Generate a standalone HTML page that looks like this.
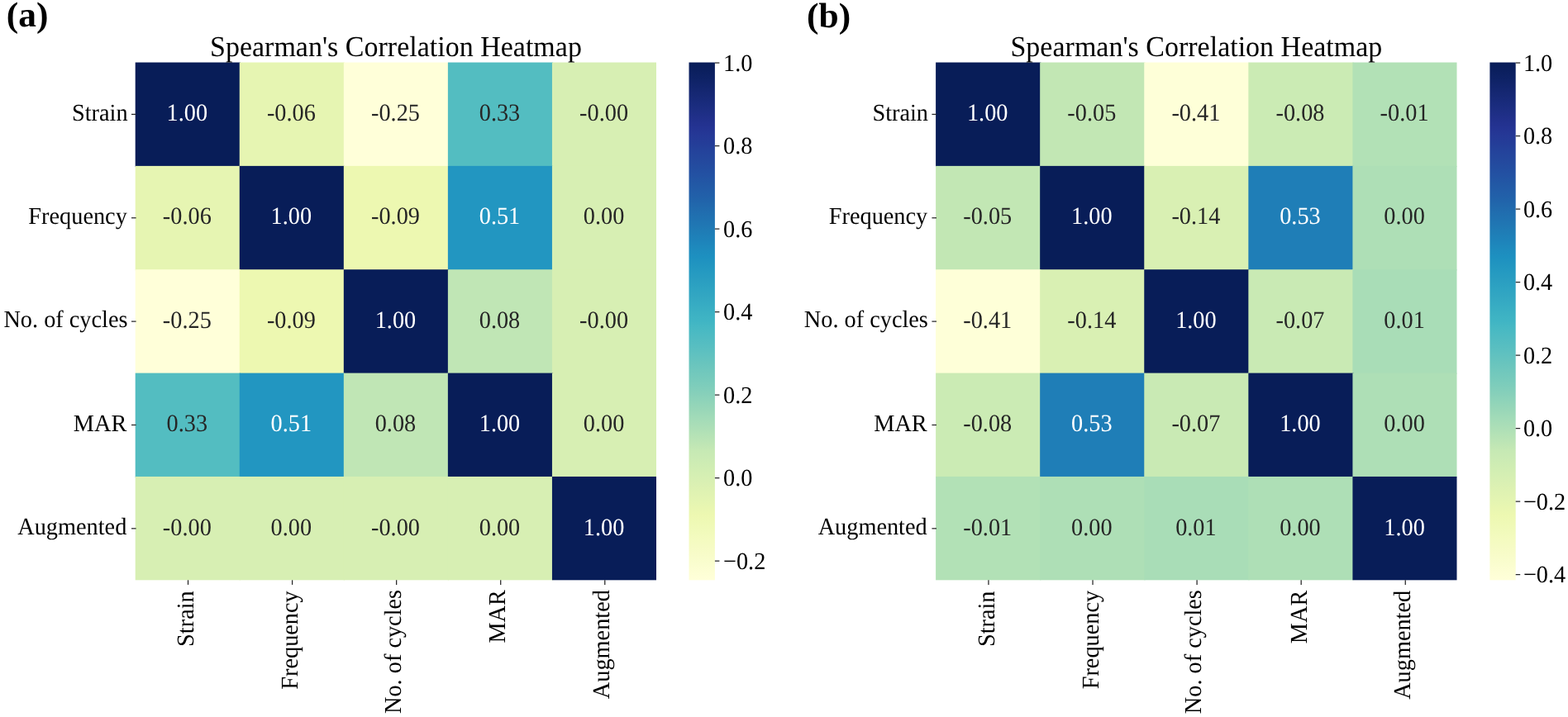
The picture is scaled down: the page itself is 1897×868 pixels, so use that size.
<!DOCTYPE html>
<html lang="en"><head><meta charset="utf-8"><title>Spearman's Correlation Heatmap</title>
<style>
html,body{margin:0;padding:0;background:#fff;}
body{width:1897px;height:868px;overflow:hidden;}
svg{display:block;font-family:"Liberation Serif","Times New Roman",Times,serif;text-rendering:geometricPrecision;}
.t{font-size:28.3px;fill:#000;}
.an{font-size:28.3px;text-anchor:middle;}
.d{fill:#262626;}.w{fill:#fff;}
.ti{font-size:34.0px;text-anchor:middle;fill:#000;}
.pl{font-size:43.5px;font-weight:bold;fill:#000;}
.tk{stroke:#262626;stroke-width:1.25;}
</style></head><body>
<svg width="1897" height="868" viewBox="0 0 1897 868">
<rect x="0" y="0" width="1897" height="868" fill="#fff"/>
<defs>
<linearGradient id="g0" x1="0" y1="1" x2="0" y2="0">
<stop offset="0.0000" stop-color="#ffffd9"/>
<stop offset="0.0156" stop-color="#fdfed4"/>
<stop offset="0.0312" stop-color="#fafdcf"/>
<stop offset="0.0469" stop-color="#f8fcca"/>
<stop offset="0.0625" stop-color="#f6fbc5"/>
<stop offset="0.0781" stop-color="#f4fbc0"/>
<stop offset="0.0938" stop-color="#f1fabb"/>
<stop offset="0.1094" stop-color="#eff9b6"/>
<stop offset="0.1250" stop-color="#edf8b1"/>
<stop offset="0.1406" stop-color="#e8f6b1"/>
<stop offset="0.1562" stop-color="#e3f4b2"/>
<stop offset="0.1719" stop-color="#dff2b2"/>
<stop offset="0.1875" stop-color="#daf0b3"/>
<stop offset="0.2031" stop-color="#d5efb3"/>
<stop offset="0.2188" stop-color="#d0edb3"/>
<stop offset="0.2344" stop-color="#cbebb4"/>
<stop offset="0.2500" stop-color="#c6e9b4"/>
<stop offset="0.2656" stop-color="#bde5b5"/>
<stop offset="0.2812" stop-color="#b4e2b6"/>
<stop offset="0.2969" stop-color="#abdeb7"/>
<stop offset="0.3125" stop-color="#a2dbb8"/>
<stop offset="0.3281" stop-color="#99d7b8"/>
<stop offset="0.3438" stop-color="#90d4b9"/>
<stop offset="0.3594" stop-color="#87d0ba"/>
<stop offset="0.3750" stop-color="#7ecdbb"/>
<stop offset="0.3906" stop-color="#76cabc"/>
<stop offset="0.4062" stop-color="#6fc7bd"/>
<stop offset="0.4219" stop-color="#67c4be"/>
<stop offset="0.4375" stop-color="#5fc1c0"/>
<stop offset="0.4531" stop-color="#57bec1"/>
<stop offset="0.4688" stop-color="#50bbc2"/>
<stop offset="0.4844" stop-color="#48b9c3"/>
<stop offset="0.5000" stop-color="#40b5c4"/>
<stop offset="0.5156" stop-color="#3cb1c3"/>
<stop offset="0.5312" stop-color="#37acc3"/>
<stop offset="0.5469" stop-color="#33a7c2"/>
<stop offset="0.5625" stop-color="#2ea3c2"/>
<stop offset="0.5781" stop-color="#2a9ec1"/>
<stop offset="0.5938" stop-color="#259ac1"/>
<stop offset="0.6094" stop-color="#2195c0"/>
<stop offset="0.6250" stop-color="#1d90c0"/>
<stop offset="0.6406" stop-color="#1e8abd"/>
<stop offset="0.6562" stop-color="#1e83ba"/>
<stop offset="0.6719" stop-color="#1f7db6"/>
<stop offset="0.6875" stop-color="#2076b3"/>
<stop offset="0.7031" stop-color="#2070b0"/>
<stop offset="0.7188" stop-color="#216aad"/>
<stop offset="0.7344" stop-color="#2163aa"/>
<stop offset="0.7500" stop-color="#225da8"/>
<stop offset="0.7656" stop-color="#2258a5"/>
<stop offset="0.7812" stop-color="#2352a3"/>
<stop offset="0.7969" stop-color="#234da0"/>
<stop offset="0.8125" stop-color="#24489d"/>
<stop offset="0.8281" stop-color="#24439b"/>
<stop offset="0.8438" stop-color="#243d98"/>
<stop offset="0.8594" stop-color="#253896"/>
<stop offset="0.8750" stop-color="#243392"/>
<stop offset="0.8906" stop-color="#21308b"/>
<stop offset="0.9062" stop-color="#1d2e83"/>
<stop offset="0.9219" stop-color="#192b7c"/>
<stop offset="0.9375" stop-color="#162874"/>
<stop offset="0.9531" stop-color="#12256d"/>
<stop offset="0.9688" stop-color="#0e2265"/>
<stop offset="0.9844" stop-color="#0b1f5e"/>
<stop offset="1.0000" stop-color="#081d58"/>
</linearGradient>
<linearGradient id="g1" x1="0" y1="1" x2="0" y2="0">
<stop offset="0.0000" stop-color="#ffffd9"/>
<stop offset="0.0156" stop-color="#fdfed4"/>
<stop offset="0.0312" stop-color="#fafdcf"/>
<stop offset="0.0469" stop-color="#f8fcca"/>
<stop offset="0.0625" stop-color="#f6fbc5"/>
<stop offset="0.0781" stop-color="#f4fbc0"/>
<stop offset="0.0938" stop-color="#f1fabb"/>
<stop offset="0.1094" stop-color="#eff9b6"/>
<stop offset="0.1250" stop-color="#edf8b1"/>
<stop offset="0.1406" stop-color="#e8f6b1"/>
<stop offset="0.1562" stop-color="#e3f4b2"/>
<stop offset="0.1719" stop-color="#dff2b2"/>
<stop offset="0.1875" stop-color="#daf0b3"/>
<stop offset="0.2031" stop-color="#d5efb3"/>
<stop offset="0.2188" stop-color="#d0edb3"/>
<stop offset="0.2344" stop-color="#cbebb4"/>
<stop offset="0.2500" stop-color="#c6e9b4"/>
<stop offset="0.2656" stop-color="#bde5b5"/>
<stop offset="0.2812" stop-color="#b4e2b6"/>
<stop offset="0.2969" stop-color="#abdeb7"/>
<stop offset="0.3125" stop-color="#a2dbb8"/>
<stop offset="0.3281" stop-color="#99d7b8"/>
<stop offset="0.3438" stop-color="#90d4b9"/>
<stop offset="0.3594" stop-color="#87d0ba"/>
<stop offset="0.3750" stop-color="#7ecdbb"/>
<stop offset="0.3906" stop-color="#76cabc"/>
<stop offset="0.4062" stop-color="#6fc7bd"/>
<stop offset="0.4219" stop-color="#67c4be"/>
<stop offset="0.4375" stop-color="#5fc1c0"/>
<stop offset="0.4531" stop-color="#57bec1"/>
<stop offset="0.4688" stop-color="#50bbc2"/>
<stop offset="0.4844" stop-color="#48b9c3"/>
<stop offset="0.5000" stop-color="#40b5c4"/>
<stop offset="0.5156" stop-color="#3cb1c3"/>
<stop offset="0.5312" stop-color="#37acc3"/>
<stop offset="0.5469" stop-color="#33a7c2"/>
<stop offset="0.5625" stop-color="#2ea3c2"/>
<stop offset="0.5781" stop-color="#2a9ec1"/>
<stop offset="0.5938" stop-color="#259ac1"/>
<stop offset="0.6094" stop-color="#2195c0"/>
<stop offset="0.6250" stop-color="#1d90c0"/>
<stop offset="0.6406" stop-color="#1e8abd"/>
<stop offset="0.6562" stop-color="#1e83ba"/>
<stop offset="0.6719" stop-color="#1f7db6"/>
<stop offset="0.6875" stop-color="#2076b3"/>
<stop offset="0.7031" stop-color="#2070b0"/>
<stop offset="0.7188" stop-color="#216aad"/>
<stop offset="0.7344" stop-color="#2163aa"/>
<stop offset="0.7500" stop-color="#225da8"/>
<stop offset="0.7656" stop-color="#2258a5"/>
<stop offset="0.7812" stop-color="#2352a3"/>
<stop offset="0.7969" stop-color="#234da0"/>
<stop offset="0.8125" stop-color="#24489d"/>
<stop offset="0.8281" stop-color="#24439b"/>
<stop offset="0.8438" stop-color="#243d98"/>
<stop offset="0.8594" stop-color="#253896"/>
<stop offset="0.8750" stop-color="#243392"/>
<stop offset="0.8906" stop-color="#21308b"/>
<stop offset="0.9062" stop-color="#1d2e83"/>
<stop offset="0.9219" stop-color="#192b7c"/>
<stop offset="0.9375" stop-color="#162874"/>
<stop offset="0.9531" stop-color="#12256d"/>
<stop offset="0.9688" stop-color="#0e2265"/>
<stop offset="0.9844" stop-color="#0b1f5e"/>
<stop offset="1.0000" stop-color="#081d58"/>
</linearGradient>
</defs>
<g id="panel-a">
<rect x="163.70" y="75.55" width="127.26" height="126.55" fill="#081d58"/>
<rect x="289.76" y="75.55" width="127.26" height="126.55" fill="#e6f5b2"/>
<rect x="415.82" y="75.55" width="127.26" height="126.55" fill="#ffffd9"/>
<rect x="541.88" y="75.55" width="127.26" height="126.55" fill="#53bdc1"/>
<rect x="667.94" y="75.55" width="126.06" height="126.55" fill="#d7efb3"/>
<rect x="163.70" y="200.90" width="127.26" height="126.55" fill="#e6f5b2"/>
<rect x="289.76" y="200.90" width="127.26" height="126.55" fill="#081d58"/>
<rect x="415.82" y="200.90" width="127.26" height="126.55" fill="#edf8b1"/>
<rect x="541.88" y="200.90" width="127.26" height="126.55" fill="#2296c1"/>
<rect x="667.94" y="200.90" width="126.06" height="126.55" fill="#d7efb3"/>
<rect x="163.70" y="326.25" width="127.26" height="126.55" fill="#ffffd9"/>
<rect x="289.76" y="326.25" width="127.26" height="126.55" fill="#edf8b1"/>
<rect x="415.82" y="326.25" width="127.26" height="126.55" fill="#081d58"/>
<rect x="541.88" y="326.25" width="127.26" height="126.55" fill="#c0e6b5"/>
<rect x="667.94" y="326.25" width="126.06" height="126.55" fill="#d7efb3"/>
<rect x="163.70" y="451.60" width="127.26" height="126.55" fill="#53bdc1"/>
<rect x="289.76" y="451.60" width="127.26" height="126.55" fill="#2296c1"/>
<rect x="415.82" y="451.60" width="127.26" height="126.55" fill="#c0e6b5"/>
<rect x="541.88" y="451.60" width="127.26" height="126.55" fill="#081d58"/>
<rect x="667.94" y="451.60" width="126.06" height="126.55" fill="#d7efb3"/>
<rect x="163.70" y="576.95" width="127.26" height="125.35" fill="#d7efb3"/>
<rect x="289.76" y="576.95" width="127.26" height="125.35" fill="#d7efb3"/>
<rect x="415.82" y="576.95" width="127.26" height="125.35" fill="#d7efb3"/>
<rect x="541.88" y="576.95" width="127.26" height="125.35" fill="#d7efb3"/>
<rect x="667.94" y="576.95" width="126.06" height="125.35" fill="#081d58"/>
<text class="an w" transform="translate(226.33,146.12) scale(1,1.045)">1.00</text>
<text class="an d" transform="translate(352.39,146.12) scale(1,1.045)">-0.06</text>
<text class="an d" transform="translate(478.45,146.12) scale(1,1.045)">-0.25</text>
<text class="an d" transform="translate(604.51,146.12) scale(1,1.045)">0.33</text>
<text class="an d" transform="translate(730.57,146.12) scale(1,1.045)">-0.00</text>
<text class="an d" transform="translate(226.33,271.47) scale(1,1.045)">-0.06</text>
<text class="an w" transform="translate(352.39,271.47) scale(1,1.045)">1.00</text>
<text class="an d" transform="translate(478.45,271.47) scale(1,1.045)">-0.09</text>
<text class="an w" transform="translate(604.51,271.47) scale(1,1.045)">0.51</text>
<text class="an d" transform="translate(730.57,271.47) scale(1,1.045)">0.00</text>
<text class="an d" transform="translate(226.33,396.82) scale(1,1.045)">-0.25</text>
<text class="an d" transform="translate(352.39,396.82) scale(1,1.045)">-0.09</text>
<text class="an w" transform="translate(478.45,396.82) scale(1,1.045)">1.00</text>
<text class="an d" transform="translate(604.51,396.82) scale(1,1.045)">0.08</text>
<text class="an d" transform="translate(730.57,396.82) scale(1,1.045)">-0.00</text>
<text class="an d" transform="translate(226.33,522.17) scale(1,1.045)">0.33</text>
<text class="an w" transform="translate(352.39,522.17) scale(1,1.045)">0.51</text>
<text class="an d" transform="translate(478.45,522.17) scale(1,1.045)">0.08</text>
<text class="an w" transform="translate(604.51,522.17) scale(1,1.045)">1.00</text>
<text class="an d" transform="translate(730.57,522.17) scale(1,1.045)">0.00</text>
<text class="an d" transform="translate(226.33,647.52) scale(1,1.045)">-0.00</text>
<text class="an d" transform="translate(352.39,647.52) scale(1,1.045)">0.00</text>
<text class="an d" transform="translate(478.45,647.52) scale(1,1.045)">-0.00</text>
<text class="an d" transform="translate(604.51,647.52) scale(1,1.045)">0.00</text>
<text class="an w" transform="translate(730.57,647.52) scale(1,1.045)">1.00</text>
<line class="tk" x1="159.00" y1="138.42" x2="164.60" y2="138.42"/>
<text class="t" text-anchor="end" transform="translate(154.60,145.72) scale(1,1.030)">Strain</text>
<line class="tk" x1="159.00" y1="263.77" x2="164.60" y2="263.77"/>
<text class="t" text-anchor="end" transform="translate(153.80,271.07) scale(1,1.030)">Frequency</text>
<line class="tk" x1="159.00" y1="389.12" x2="164.60" y2="389.12"/>
<text class="t" text-anchor="end" transform="translate(154.50,396.43) scale(1,1.030)">No. of cycles</text>
<line class="tk" x1="159.00" y1="514.48" x2="164.60" y2="514.48"/>
<text class="t" text-anchor="end" transform="translate(153.30,521.77) scale(1,1.030)">MAR</text>
<line class="tk" x1="159.00" y1="639.82" x2="164.60" y2="639.82"/>
<text class="t" text-anchor="end" transform="translate(153.30,647.12) scale(1,1.030)">Augmented</text>
<line class="tk" x1="227.53" y1="702.30" x2="227.53" y2="707.90"/>
<text class="t" text-anchor="end" transform="translate(234.43,715.30) rotate(-90) scale(1,1.030)">Strain</text>
<line class="tk" x1="353.59" y1="702.30" x2="353.59" y2="707.90"/>
<text class="t" text-anchor="end" transform="translate(360.49,715.30) rotate(-90) scale(1,1.030)">Frequency</text>
<line class="tk" x1="479.65" y1="702.30" x2="479.65" y2="707.90"/>
<text class="t" text-anchor="end" transform="translate(484.85,713.90) rotate(-90) scale(1,1.030)">No. of cycles</text>
<line class="tk" x1="605.71" y1="702.30" x2="605.71" y2="707.90"/>
<text class="t" text-anchor="end" transform="translate(611.01,714.10) rotate(-90) scale(1,1.030)">MAR</text>
<line class="tk" x1="731.77" y1="702.30" x2="731.77" y2="707.90"/>
<text class="t" text-anchor="end" transform="translate(736.67,714.10) rotate(-90) scale(1,1.030)">Augmented</text>
<text class="ti" transform="translate(478.95,67.60) scale(1,1.030)">Spearman's Correlation Heatmap</text>
<text class="pl" transform="translate(7.80,32.30) scale(1,0.975)">(a)</text>
<rect x="833.50" y="75.55" width="31.40" height="626.75" fill="url(#g0)"/>
<line class="tk" x1="864.90" y1="76.10" x2="870.40" y2="76.10"/>
<text class="t" transform="translate(875.00,85.70) scale(1,1.030)">1.0</text>
<line class="tk" x1="864.90" y1="176.61" x2="870.40" y2="176.61"/>
<text class="t" transform="translate(875.00,186.21) scale(1,1.030)">0.8</text>
<line class="tk" x1="864.90" y1="277.11" x2="870.40" y2="277.11"/>
<text class="t" transform="translate(875.00,286.71) scale(1,1.030)">0.6</text>
<line class="tk" x1="864.90" y1="377.62" x2="870.40" y2="377.62"/>
<text class="t" transform="translate(875.00,387.22) scale(1,1.030)">0.4</text>
<line class="tk" x1="864.90" y1="478.12" x2="870.40" y2="478.12"/>
<text class="t" transform="translate(875.00,487.72) scale(1,1.030)">0.2</text>
<line class="tk" x1="864.90" y1="578.63" x2="870.40" y2="578.63"/>
<text class="t" transform="translate(875.00,588.23) scale(1,1.030)">0.0</text>
<line class="tk" x1="864.90" y1="679.13" x2="870.40" y2="679.13"/>
<text class="t" transform="translate(875.00,688.73) scale(1,1.030)">−0.2</text>
</g>
<g id="panel-b">
<rect x="1132.10" y="75.55" width="127.28" height="126.55" fill="#081d58"/>
<rect x="1258.18" y="75.55" width="127.28" height="126.55" fill="#c2e7b4"/>
<rect x="1384.26" y="75.55" width="127.28" height="126.55" fill="#feffd8"/>
<rect x="1510.34" y="75.55" width="127.28" height="126.55" fill="#cbebb4"/>
<rect x="1636.42" y="75.55" width="126.08" height="126.55" fill="#b2e1b6"/>
<rect x="1132.10" y="200.90" width="127.28" height="126.55" fill="#c2e7b4"/>
<rect x="1258.18" y="200.90" width="127.28" height="126.55" fill="#081d58"/>
<rect x="1384.26" y="200.90" width="127.28" height="126.55" fill="#d9f0b3"/>
<rect x="1510.34" y="200.90" width="127.28" height="126.55" fill="#1f7eb7"/>
<rect x="1636.42" y="200.90" width="126.08" height="126.55" fill="#aedfb6"/>
<rect x="1132.10" y="326.25" width="127.28" height="126.55" fill="#feffd8"/>
<rect x="1258.18" y="326.25" width="127.28" height="126.55" fill="#d9f0b3"/>
<rect x="1384.26" y="326.25" width="127.28" height="126.55" fill="#081d58"/>
<rect x="1510.34" y="326.25" width="127.28" height="126.55" fill="#c9eab4"/>
<rect x="1636.42" y="326.25" width="126.08" height="126.55" fill="#a9ddb7"/>
<rect x="1132.10" y="451.60" width="127.28" height="126.55" fill="#cbebb4"/>
<rect x="1258.18" y="451.60" width="127.28" height="126.55" fill="#1f7eb7"/>
<rect x="1384.26" y="451.60" width="127.28" height="126.55" fill="#c9eab4"/>
<rect x="1510.34" y="451.60" width="127.28" height="126.55" fill="#081d58"/>
<rect x="1636.42" y="451.60" width="126.08" height="126.55" fill="#aedfb6"/>
<rect x="1132.10" y="576.95" width="127.28" height="125.35" fill="#b2e1b6"/>
<rect x="1258.18" y="576.95" width="127.28" height="125.35" fill="#aedfb6"/>
<rect x="1384.26" y="576.95" width="127.28" height="125.35" fill="#a9ddb7"/>
<rect x="1510.34" y="576.95" width="127.28" height="125.35" fill="#aedfb6"/>
<rect x="1636.42" y="576.95" width="126.08" height="125.35" fill="#081d58"/>
<text class="an w" transform="translate(1194.74,146.12) scale(1,1.045)">1.00</text>
<text class="an d" transform="translate(1320.82,146.12) scale(1,1.045)">-0.05</text>
<text class="an d" transform="translate(1446.90,146.12) scale(1,1.045)">-0.41</text>
<text class="an d" transform="translate(1572.98,146.12) scale(1,1.045)">-0.08</text>
<text class="an d" transform="translate(1699.06,146.12) scale(1,1.045)">-0.01</text>
<text class="an d" transform="translate(1194.74,271.47) scale(1,1.045)">-0.05</text>
<text class="an w" transform="translate(1320.82,271.47) scale(1,1.045)">1.00</text>
<text class="an d" transform="translate(1446.90,271.47) scale(1,1.045)">-0.14</text>
<text class="an w" transform="translate(1572.98,271.47) scale(1,1.045)">0.53</text>
<text class="an d" transform="translate(1699.06,271.47) scale(1,1.045)">0.00</text>
<text class="an d" transform="translate(1194.74,396.82) scale(1,1.045)">-0.41</text>
<text class="an d" transform="translate(1320.82,396.82) scale(1,1.045)">-0.14</text>
<text class="an w" transform="translate(1446.90,396.82) scale(1,1.045)">1.00</text>
<text class="an d" transform="translate(1572.98,396.82) scale(1,1.045)">-0.07</text>
<text class="an d" transform="translate(1699.06,396.82) scale(1,1.045)">0.01</text>
<text class="an d" transform="translate(1194.74,522.17) scale(1,1.045)">-0.08</text>
<text class="an w" transform="translate(1320.82,522.17) scale(1,1.045)">0.53</text>
<text class="an d" transform="translate(1446.90,522.17) scale(1,1.045)">-0.07</text>
<text class="an w" transform="translate(1572.98,522.17) scale(1,1.045)">1.00</text>
<text class="an d" transform="translate(1699.06,522.17) scale(1,1.045)">0.00</text>
<text class="an d" transform="translate(1194.74,647.52) scale(1,1.045)">-0.01</text>
<text class="an d" transform="translate(1320.82,647.52) scale(1,1.045)">0.00</text>
<text class="an d" transform="translate(1446.90,647.52) scale(1,1.045)">0.01</text>
<text class="an d" transform="translate(1572.98,647.52) scale(1,1.045)">0.00</text>
<text class="an w" transform="translate(1699.06,647.52) scale(1,1.045)">1.00</text>
<line class="tk" x1="1127.40" y1="138.42" x2="1133.00" y2="138.42"/>
<text class="t" text-anchor="end" transform="translate(1123.00,145.72) scale(1,1.030)">Strain</text>
<line class="tk" x1="1127.40" y1="263.77" x2="1133.00" y2="263.77"/>
<text class="t" text-anchor="end" transform="translate(1122.20,271.07) scale(1,1.030)">Frequency</text>
<line class="tk" x1="1127.40" y1="389.12" x2="1133.00" y2="389.12"/>
<text class="t" text-anchor="end" transform="translate(1122.90,396.43) scale(1,1.030)">No. of cycles</text>
<line class="tk" x1="1127.40" y1="514.48" x2="1133.00" y2="514.48"/>
<text class="t" text-anchor="end" transform="translate(1121.70,521.77) scale(1,1.030)">MAR</text>
<line class="tk" x1="1127.40" y1="639.82" x2="1133.00" y2="639.82"/>
<text class="t" text-anchor="end" transform="translate(1121.70,647.12) scale(1,1.030)">Augmented</text>
<line class="tk" x1="1195.94" y1="702.30" x2="1195.94" y2="707.90"/>
<text class="t" text-anchor="end" transform="translate(1202.84,715.50) rotate(-90) scale(1,1.030)">Strain</text>
<line class="tk" x1="1322.02" y1="702.30" x2="1322.02" y2="707.90"/>
<text class="t" text-anchor="end" transform="translate(1328.52,714.90) rotate(-90) scale(1,1.030)">Frequency</text>
<line class="tk" x1="1448.10" y1="702.30" x2="1448.10" y2="707.90"/>
<text class="t" text-anchor="end" transform="translate(1453.30,714.10) rotate(-90) scale(1,1.030)">No. of cycles</text>
<line class="tk" x1="1574.18" y1="702.30" x2="1574.18" y2="707.90"/>
<text class="t" text-anchor="end" transform="translate(1580.78,714.70) rotate(-90) scale(1,1.030)">MAR</text>
<line class="tk" x1="1700.26" y1="702.30" x2="1700.26" y2="707.90"/>
<text class="t" text-anchor="end" transform="translate(1705.86,714.80) rotate(-90) scale(1,1.030)">Augmented</text>
<text class="ti" transform="translate(1447.40,67.60) scale(1,1.030)">Spearman's Correlation Heatmap</text>
<text class="pl" transform="translate(976.00,32.50) scale(1,0.975)">(b)</text>
<rect x="1802.40" y="75.55" width="31.30" height="626.75" fill="url(#g1)"/>
<line class="tk" x1="1833.70" y1="76.10" x2="1839.20" y2="76.10"/>
<text class="t" transform="translate(1842.90,85.70) scale(1,1.030)">1.0</text>
<line class="tk" x1="1833.70" y1="164.60" x2="1839.20" y2="164.60"/>
<text class="t" transform="translate(1842.90,174.20) scale(1,1.030)">0.8</text>
<line class="tk" x1="1833.70" y1="253.10" x2="1839.20" y2="253.10"/>
<text class="t" transform="translate(1842.90,262.70) scale(1,1.030)">0.6</text>
<line class="tk" x1="1833.70" y1="341.60" x2="1839.20" y2="341.60"/>
<text class="t" transform="translate(1842.90,351.20) scale(1,1.030)">0.4</text>
<line class="tk" x1="1833.70" y1="430.10" x2="1839.20" y2="430.10"/>
<text class="t" transform="translate(1842.90,439.70) scale(1,1.030)">0.2</text>
<line class="tk" x1="1833.70" y1="518.60" x2="1839.20" y2="518.60"/>
<text class="t" transform="translate(1842.90,528.20) scale(1,1.030)">0.0</text>
<line class="tk" x1="1833.70" y1="607.09" x2="1839.20" y2="607.09"/>
<text class="t" transform="translate(1842.90,616.69) scale(1,1.030)">−0.2</text>
<line class="tk" x1="1833.70" y1="695.59" x2="1839.20" y2="695.59"/>
<text class="t" transform="translate(1842.90,705.19) scale(1,1.030)">−0.4</text>
</g>
</svg>
</body></html>
